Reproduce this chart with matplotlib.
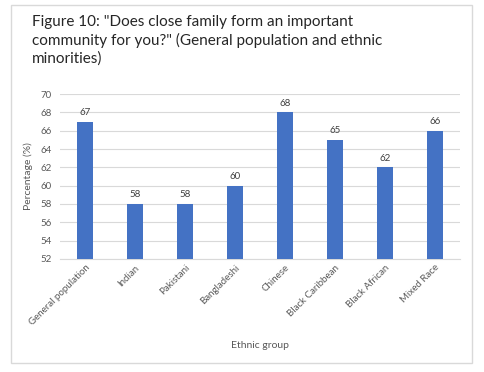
import matplotlib.pyplot as plt
from matplotlib.patches import Rectangle

plt.rcParams['font.family'] = ['Lato', 'DejaVu Sans']

# Data
groups = ['General population', 'Indian', 'Pakistani', 'Bangladeshi',
          'Chinese', 'Black Caribbean', 'Black African', 'Mixed Race']
percentages = [67, 58, 58, 60, 68, 65, 62, 66]
y_ticks = list(range(52, 71, 2))

fig = plt.figure(figsize=(4.84, 3.72), dpi=100)
fig.patches.append(Rectangle((11 / 484, 1 - 363 / 372), 461 / 484, 358 / 372,
                             transform=fig.transFigure, fill=False,
                             edgecolor='#D9D9D9', linewidth=1))

ax = fig.add_axes([0.124, 0.304, 0.826, 0.443])
x = range(len(groups))
bars = ax.bar(x, percentages, width=0.32, color='#4472C4', zorder=3)
for xi, v in zip(x, percentages):
    ax.text(xi, v + 0.5, str(v), ha='center', va='bottom', fontsize=7, color='#404040')

ax.set_ylim(52, 70)
ax.set_xlim(-0.5, len(groups) - 0.5)
ax.set_yticks(y_ticks)
ax.yaxis.grid(True, color='#D9D9D9', linewidth=0.8, zorder=0)
for s in ['top', 'right', 'left']:
    ax.spines[s].set_visible(False)
ax.spines['bottom'].set_color('#D9D9D9')
ax.tick_params(axis='both', length=0, labelsize=7, labelcolor='#595959')
ax.tick_params(axis='y', pad=6)
ax.tick_params(axis='x', pad=3)
ax.set_xticks(list(x))
ax.set_xticklabels(groups, rotation=45, ha='right', rotation_mode='anchor')
ax.set_ylabel('Percentage (%)', fontsize=7.5, color='#595959', labelpad=5)
ax.set_xlabel('Ethnic group', fontsize=7.5, color='#595959', labelpad=10)

fig.text(32 / 484, 1 - 15 / 372,
         'Figure 10: "Does close family form an important\n'
         'community for you?" (General population and ethnic\n'
         'minorities)', ha='left', va='top', fontsize=11, color='#262626',
         linespacing=1.3)

fig.savefig('out.png', dpi=100)
